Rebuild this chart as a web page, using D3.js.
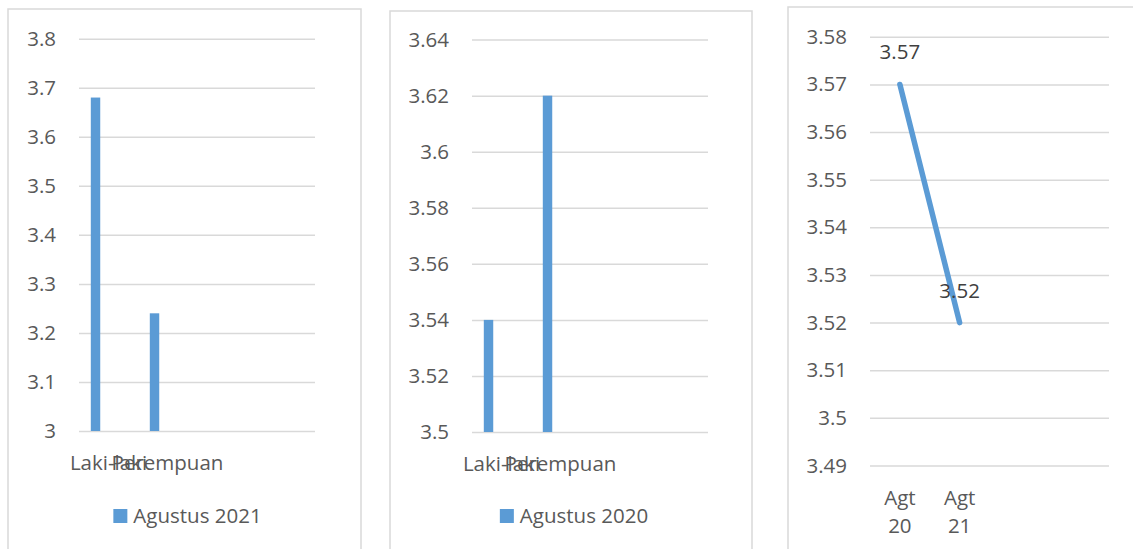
<!DOCTYPE html>
<html>
<head>
<meta charset="utf-8">
<script src="https://cdn.jsdelivr.net/npm/d3@7"></script>
<style>
    body { margin: 0; background: #fff; }
    text { font-family: "Open Sans", sans-serif; }
</style>
</head>
<body>
<div id="area"></div>
<script>

// Data
const gender = ["Laki-laki", "Perempuan"]
const agustus2021 = [3.68, 3.24]
const agustus2020 = [3.54, 3.62]

const periode = [["Agt", "20"], ["Agt", "21"]]
const rataRata = [3.57, 3.52]

// Range di Excel berisi 4 baris (2 kosong)
const jumlahBaris = 4

const ticks2021 = [3, 3.1, 3.2, 3.3, 3.4, 3.5, 3.6, 3.7, 3.8]
const ticks2020 = [3.5, 3.52, 3.54, 3.56, 3.58, 3.6, 3.62, 3.64]
const ticksGaris = [3.49, 3.5, 3.51, 3.52, 3.53, 3.54, 3.55, 3.56, 3.57, 3.58]

const biru = '#5B9BD5'
const abu = '#d9d9d9'
const teks = '#595959'
const ukuran = '20.5px'

let svg = d3.select('#area').append('svg')
    .attr('width', 1133)
    .attr('height', 549)

// Kotak + sumbu Y + grid, dipakai di tiga panel
function panel(kotak, plot, ticks) {

    svg.append('rect')
        .attr('x', kotak.x).attr('y', kotak.y)
        .attr('width', kotak.w).attr('height', kotak.h)
        .attr('fill', 'none')
        .attr('stroke', abu)
        .attr('stroke-width', 1.5)

    let g = svg.append('g').attr('transform', `translate(${plot.left}, 0)`)

    let y = d3.scaleLinear()
        .domain([ticks[0], ticks[ticks.length - 1]])
        .range([plot.bottom, plot.top])

    let x = d3.scaleBand()
        .domain(d3.range(jumlahBaris))
        .range([0, plot.right - plot.left])

    let axis = g.append('g')
        .call(d3.axisLeft(y)
            .tickValues(ticks)
            .tickFormat(d3.format('~g'))
            .tickSize(-(plot.right - plot.left))
            .tickPadding(23))

    axis.select('.domain').remove()
    axis.selectAll('.tick line').attr('stroke', abu).attr('stroke-width', 1.5)
    axis.selectAll('.tick text')
        .attr('fill', teks)
        .style('font-size', ukuran)
        .style('font-family', '"Open Sans", sans-serif')

    return { g, x, y }
}

function grafikBatang(kotak, plot, ticks, nilai, namaSeri) {

    const { g, x, y } = panel(kotak, plot, ticks)
    const bw = x.bandwidth()

    // Batang (posisi seperti klaster Excel, seri pertama)
    g.selectAll('.bar')
        .data(nilai)
        .enter().append('rect')
        .attr('x', (d, i) => x(i) + bw * 0.2)
        .attr('width', bw * 0.16)
        .attr('y', d => y(d))
        .attr('height', d => y(ticks[0]) - y(d))
        .attr('fill', biru)

    // Label kategori
    g.selectAll('.kat')
        .data(gender)
        .enter().append('text')
        .attr('x', (d, i) => x(i) + bw / 2)
        .attr('y', y(ticks[0]) + 39)
        .attr('text-anchor', 'middle')
        .attr('fill', teks)
        .style('font-size', ukuran)
        .text(d => d)

    // Legenda
    let leg = svg.append('g')
    leg.append('rect')
        .attr('x', 0).attr('y', -14)
        .attr('width', 14).attr('height', 14)
        .attr('fill', biru)
    let t = leg.append('text')
        .attr('x', 20).attr('y', 0)
        .attr('fill', teks)
        .style('font-size', ukuran)
        .text(namaSeri)
    const lebar = 20 + t.node().getComputedTextLength()
    leg.attr('transform', `translate(${kotak.x + kotak.w / 2 - lebar / 2 + 3}, 523)`)
}

function grafikGaris(kotak, plot, ticks, nilai) {

    const { g, x, y } = panel(kotak, plot, ticks)
    const bw = x.bandwidth()

    let line = d3.line()
        .x((d, i) => x(i) + bw / 2)
        .y(d => y(d))

    g.append('path')
        .datum(nilai)
        .attr('d', line)
        .attr('fill', 'none')
        .attr('stroke', biru)
        .attr('stroke-width', 5.5)
        .attr('stroke-linecap', 'round')

    // Label data
    g.selectAll('.lbl')
        .data(nilai)
        .enter().append('text')
        .attr('x', (d, i) => x(i) + bw / 2)
        .attr('y', d => y(d) - 25)
        .attr('text-anchor', 'middle')
        .attr('fill', '#404040')
        .style('font-size', ukuran)
        .text(d => d)

    // Label periode (dua baris)
    let kat = g.selectAll('.kat')
        .data(periode)
        .enter().append('text')
        .attr('text-anchor', 'middle')
        .attr('fill', teks)
        .style('font-size', ukuran)

    kat.selectAll('tspan')
        .data((d, i) => d.map(s => ({ s, i })))
        .enter().append('tspan')
        .attr('x', d => x(d.i) + bw / 2)
        .attr('y', (d, j) => y(ticks[0]) + 39 + j * 28)
        .text(d => d.s)
}

grafikBatang(
    { x: 8, y: 9, w: 353, h: 560 },
    { left: 79, right: 315, top: 38.7, bottom: 431 },
    ticks2021, agustus2021, 'Agustus 2021')

grafikBatang(
    { x: 390, y: 11, w: 362, h: 560 },
    { left: 472, right: 708, top: 39.6, bottom: 432 },
    ticks2020, agustus2020, 'Agustus 2020')

grafikGaris(
    { x: 788, y: 7, w: 380, h: 560 },
    { left: 870, right: 1109, top: 36.8, bottom: 465.5 },
    ticksGaris, rataRata)

</script>
</body>
</html>
